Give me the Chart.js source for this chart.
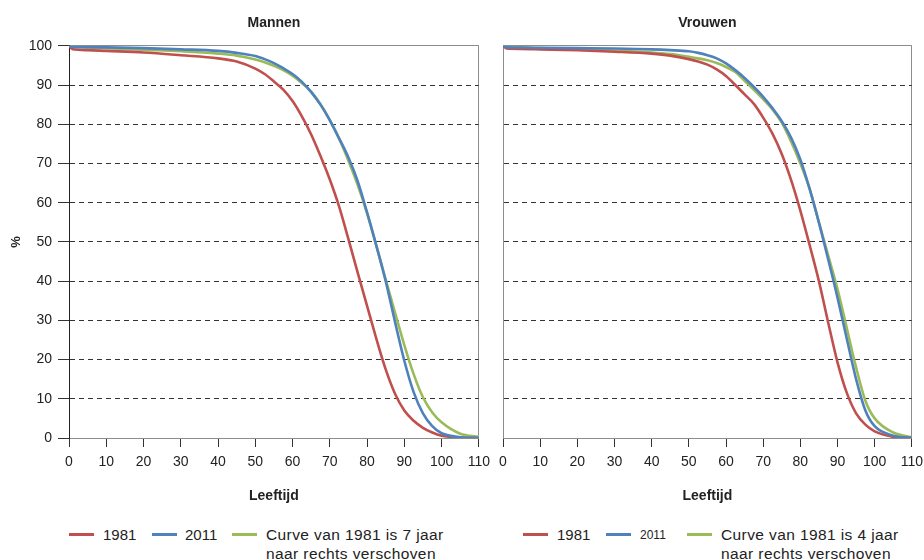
<!DOCTYPE html>
<html>
<head>
<meta charset="utf-8">
<script src="https://cdn.jsdelivr.net/npm/chart.js@4.4.0/dist/chart.umd.min.js"></script>
<style>
body { margin: 0; background: #fff; font-family: "Liberation Sans", Arial, sans-serif; overflow: hidden; }
#wrap { position: relative; width: 924px; height: 560px; overflow: hidden; }
.box { position: absolute; top: 0; height: 510px; }
.sw { position: absolute; width: 25px; height: 3px; }
.txt { position: absolute; font-size: 15px; line-height: 19px; color: #222; white-space: nowrap; }
.long { font-size: 15.5px; letter-spacing: 0.4px; }
</style>
</head>
<body>
<div id="wrap">
  <div class="box" style="left:0;width:497px"><canvas id="men"></canvas></div>
  <div class="box" style="left:490px;width:440px"><canvas id="women"></canvas></div>

  <div class="sw" style="left:69px;top:533px;background:#c0504d"></div>
  <div class="txt" style="left:103px;top:525px">1981</div>
  <div class="sw" style="left:152px;top:533px;background:#4f81bd"></div>
  <div class="txt" style="left:185px;top:525px">2011</div>
  <div class="sw" style="left:232px;top:533px;background:#9bbb59"></div>
  <div class="txt long" style="left:266px;top:525px">Curve van 1981 is 7 jaar<br>naar rechts verschoven</div>

  <div class="sw" style="left:523px;top:533px;background:#c0504d"></div>
  <div class="txt" style="left:557px;top:525px">1981</div>
  <div class="sw" style="left:606px;top:533px;background:#4f81bd"></div>
  <div class="txt" style="left:640px;top:526px;font-size:12px">2011</div>
  <div class="sw" style="left:687px;top:533px;background:#9bbb59"></div>
  <div class="txt long" style="left:721px;top:525px">Curve van 1981 is 4 jaar<br>naar rechts verschoven</div>
</div>

<script>
// leeftijden (x) en percentage overlevenden (y)
var ages = [0, 1, 5, 10, 20, 30, 40, 45, 50, 52.5, 55, 57.5, 60, 62.5, 65, 67.5, 70, 72.5, 75, 77.5, 80, 82.5, 85, 87.5, 90, 92.5, 95, 97.5, 100, 105, 110];

var men1981 = [100, 99.1, 98.9, 98.7, 98.3, 97.6, 96.8, 96.0, 94.2, 92.8, 90.9, 88.8, 85.9, 82.0, 77.4, 71.9, 65.9, 59.0, 50.7, 42.1, 33.7, 25.3, 17.5, 11.3, 7.0, 4.4, 2.6, 1.4, 0.6, 0.1, 0];
var men2011 = [100, 99.7, 99.65, 99.6, 99.4, 99.1, 98.7, 98.2, 97.4, 96.6, 95.6, 94.3, 92.8, 90.8, 88.2, 85.0, 81.0, 76.4, 71.5, 65.4, 57.5, 49.0, 40.0, 29.6, 19.7, 11.7, 6.3, 3.0, 1.2, 0.2, 0];
var menShift = [100, 99.8, 99.6, 99.4, 99.0, 98.6, 98.0, 97.5, 96.5, 95.8, 94.9, 93.8, 92.4, 90.5, 88.3, 85.1, 81.1, 76.3, 70.7, 64.5, 57.3, 49.0, 40.4, 32.0, 23.7, 16.3, 10.4, 6.5, 4.0, 1.1, 0.3];

var women1981 = [100, 99.3, 99.2, 99.1, 98.85, 98.5, 98.0, 97.5, 96.6, 96.0, 95.2, 94.0, 92.3, 90.0, 87.6, 85.2, 81.7, 77.6, 72.4, 65.8, 58.0, 49.2, 40.0, 29.4, 19.3, 11.5, 6.3, 3.4, 1.7, 0.3, 0];
var women2011 = [100, 99.6, 99.55, 99.5, 99.4, 99.3, 99.1, 98.9, 98.6, 98.2, 97.6, 96.8, 95.5, 93.8, 91.8, 89.5, 87.0, 84.1, 80.8, 76.6, 71.0, 63.5, 54.9, 45.5, 35.8, 25.3, 15.0, 7.0, 3.0, 0.6, 0];
var womenShift = [100, 99.8, 99.6, 99.4, 99.2, 98.8, 98.3, 97.9, 97.2, 96.8, 96.3, 95.6, 94.6, 93.3, 91.1, 88.8, 86.4, 83.8, 80.4, 75.6, 70.0, 63.5, 55.0, 46.5, 38.0, 28.0, 18.0, 9.5, 5.0, 1.4, 0.2];

var xTicks = [0, 10, 20, 30, 40, 50, 60, 70, 80, 90, 100, 110];
var yTicks = [0, 10, 20, 30, 40, 50, 60, 70, 80, 90, 100];

function points(vals) {
    return ages.map(function (a, i) { return { x: a, y: vals[i] }; });
}

function line(label, vals, color, order) {
    return {
        label: label,
        data: points(vals),
        borderColor: color,
        backgroundColor: color,
        borderWidth: 2.6,
        pointRadius: 0,
        fill: false,
        cubicInterpolationMode: "monotone",
        order: order
    };
}

function makeChart(id, title, red, blue, green, isLeft) {
    var fontFam = "'Liberation Sans', Arial, sans-serif";
    new Chart(document.getElementById(id), {
        type: "line",
        data: {
            datasets: [
                line("Curve van 1981 verschoven", green, "#9bbb59", 3),
                line("1981", red, "#c0504d", 2),
                line("2011", blue, "#4f81bd", 1)
            ]
        },
        options: {
            responsive: true,
            maintainAspectRatio: false,
            animation: false,
            devicePixelRatio: 1,
            layout: { padding: 0 },
            plugins: {
                legend: { display: false },
                tooltip: { enabled: false },
                title: {
                    display: true,
                    text: title,
                    fullSize: false,
                    color: "#222",
                    font: { family: fontFam, size: 14, weight: "bold" },
                    padding: { top: 15, bottom: 14 }
                }
            },
            scales: {
                x: {
                    type: "linear",
                    min: 0,
                    max: 110,
                    afterBuildTicks: function (s) { s.ticks = xTicks.map(function (v) { return { value: v }; }); },
                    afterFit: function (s) { s.height = 72; },
                    ticks: { color: "#222", font: { family: fontFam, size: 14 }, padding: 7, maxRotation: 0 },
                    grid: {
                        color: function (ctx) { return ctx.tick && ctx.tick.value === 110 ? "#8c8c8c" : "rgba(0,0,0,0)"; },
                        tickColor: "#333",
                        tickLength: 9,
                        lineWidth: 1
                    },
                    border: { color: "#8c8c8c", width: 1 },
                    title: {
                        display: true,
                        text: "Leeftijd",
                        color: "#222",
                        font: { family: fontFam, size: 14, weight: "bold" },
                        padding: { top: 0, bottom: 5 }
                    }
                },
                y: {
                    min: 0,
                    max: 100,
                    afterBuildTicks: function (s) { s.ticks = yTicks.map(function (v) { return { value: v }; }); },
                    afterFit: function (s) { s.width = isLeft ? 69 : 13; },
                    ticks: { display: isLeft, color: "#222", font: { family: fontFam, size: 14 }, padding: 6 },
                    grid: {
                        color: function (ctx) {
                            var v = ctx.tick ? ctx.tick.value : -1;
                            return (v === 0 || v === 100) ? "#8c8c8c" : "#333";
                        },
                        tickColor: "#333",
                        drawTicks: isLeft,
                        tickLength: 11,
                        lineWidth: 1
                    },
                    border: {
                        color: isLeft ? "#222" : "#8c8c8c",
                        width: 1,
                        dash: function (ctx) {
                            return (ctx.tick && ctx.tick.value > 0 && ctx.tick.value < 100) ? [5, 4] : [];
                        }
                    },
                    title: {
                        display: isLeft,
                        text: "%",
                        color: "#222",
                        font: { family: fontFam, size: 13, weight: "bold" },
                        padding: { top: 9, bottom: 0 }
                    }
                }
            }
        }
    });
}

makeChart("men", "Mannen", men1981, men2011, menShift, true);
makeChart("women", "Vrouwen", women1981, women2011, womenShift, false);
</script>
</body>
</html>
